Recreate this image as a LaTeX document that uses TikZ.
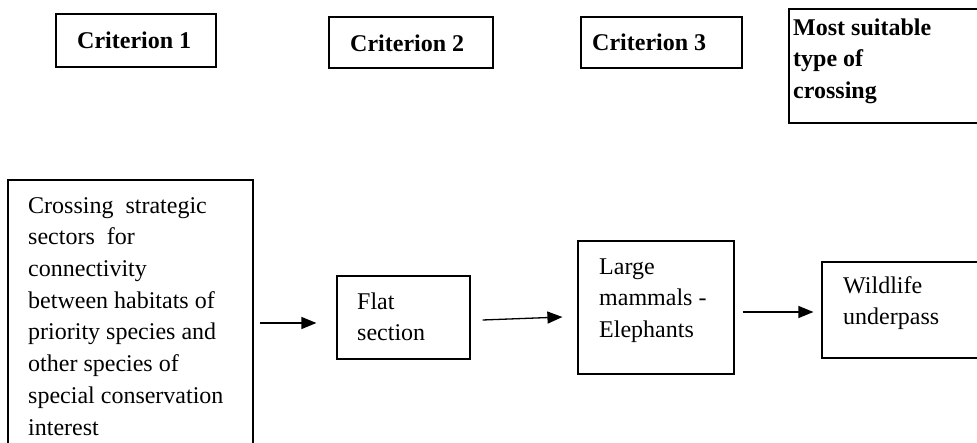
\documentclass[tikz,border=0pt]{standalone}
\usepackage{fontspec}
\setmainfont{Liberation Serif}
\usetikzlibrary{arrows.meta}
\tikzset{
  box/.style={draw, line width=1.2pt, rectangle, inner sep=0pt},
  topbox/.style={box, line width=1.5pt},
  txt/.style={anchor=north west, inner sep=0pt, align=left,
    font=\fontsize{24}{31.7}\selectfont},
  btxt/.style={txt, font=\fontsize{24}{31.7}\selectfont\bfseries},
  arr/.style={line width=1.3pt, -{Triangle[length=15pt,width=12pt]}}
}
\begin{document}
\begin{tikzpicture}[x=1pt,y=-1pt]
\useasboundingbox (0,0) rectangle (977,443);
\clip (0,0) rectangle (977,443);
% top row
\node[topbox, minimum width=160pt, minimum height=53pt] (c1) at (136,40.5) {};
\node[topbox, minimum width=164pt, minimum height=51pt] (c2) at (411,42.5) {};
\node[topbox, minimum width=161pt, minimum height=51pt] (c3) at (661.5,42.5) {};
\node[topbox, minimum width=211pt, minimum height=114pt] (most) at (894.5,66) {};
\node[btxt] (c1t) at (77,25.8) {\strut Criterion 1};
\node[btxt] (c2t) at (350,28.8) {\strut Criterion 2};
\node[btxt] (c3t) at (592,27.8) {\strut Criterion 3};
\node[btxt] (mostt) at (793,12.8) {\strut Most suitable\\type of\\crossing};
% bottom row
\node[box, minimum width=245pt, minimum height=286pt] (big) at (130.5,323) {};
\node[box, minimum width=133pt, minimum height=83pt] (flat) at (403.5,317.5) {};
\node[box, minimum width=156pt, minimum height=133pt] (mam) at (656,307.5) {};
\node[box, minimum width=178pt, minimum height=96pt] (wild) at (911,310) {};
\node[txt] (bigt) at (28,190.8) {\strut Crossing\ \ strategic\\sectors\ \ for\\connectivity\\between habitats of\\priority species and\\other species of\\special conservation\\interest};
\node[txt] (flatt) at (357,286.8) {\strut Flat\\section};
\node[txt] (mamt) at (599,251.8) {\strut Large\\mammals -\\Elephants};
\node[txt] (wildt) at (843,270.8) {\strut Wildlife\\underpass};
% arrows
\draw[arr] ([xshift=6pt]big.east) -- ([xshift=-20pt]big.east -| flat.west);
\draw[arr] ([shift={(12pt,-2.5pt)}]flat.east) -- ([shift={(-15pt,-9.5pt)}]mam.west);
\draw[arr] ([shift={(8pt,-4.5pt)}]mam.east) -- ([shift={(-8pt,-2pt)}]wild.west);
\end{tikzpicture}
\end{document}
